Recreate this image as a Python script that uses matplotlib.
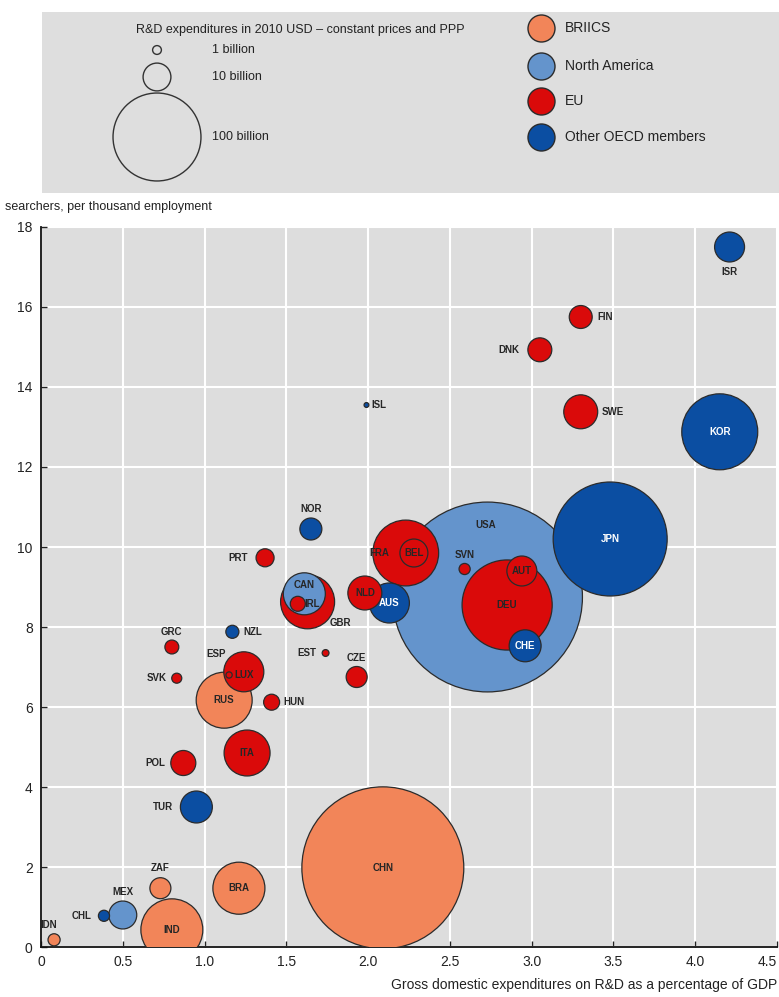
import matplotlib
matplotlib.use("Agg")
import matplotlib.pyplot as plt
from matplotlib.patches import Rectangle

plt.rcParams['font.family'] = ['Liberation Sans Narrow', 'Liberation Sans', 'DejaVu Sans']

# data
codes = ['ISR', 'FIN', 'DNK', 'ISL', 'SWE', 'KOR', 'JPN', 'USA', 'DEU', 'AUT',
         'CHE', 'SVN', 'AUS', 'FRA', 'BEL', 'NLD', 'CAN', 'GBR', 'IRL', 'NOR',
         'PRT', 'NZL', 'GRC', 'EST', 'CZE', 'ESP', 'LUX', 'SVK', 'RUS', 'HUN',
         'ITA', 'POL', 'TUR', 'CHN', 'BRA', 'IND', 'ZAF', 'MEX', 'CHL', 'IDN']
groups = ['Other OECD members', 'EU', 'EU', 'Other OECD members', 'EU',
          'Other OECD members', 'Other OECD members', 'North America', 'EU', 'EU',
          'Other OECD members', 'EU', 'Other OECD members', 'EU', 'EU', 'EU',
          'North America', 'EU', 'EU', 'Other OECD members',
          'EU', 'Other OECD members', 'EU', 'EU', 'EU', 'EU', 'EU', 'EU', 'BRIICS', 'EU',
          'EU', 'EU', 'Other OECD members', 'BRIICS', 'BRIICS', 'BRIICS', 'BRIICS',
          'North America', 'Other OECD members', 'BRIICS']
gerd = [4.21, 3.30, 3.05, 1.99, 3.30, 4.15, 3.48, 2.73, 2.85, 2.94,
        2.96, 2.59, 2.13, 2.23, 2.28, 1.98, 1.61, 1.63, 1.57, 1.65,
        1.37, 1.17, 0.80, 1.74, 1.93, 1.24, 1.15, 0.83, 1.12, 1.41,
        1.26, 0.87, 0.95, 2.09, 1.21, 0.80, 0.73, 0.50, 0.385, 0.08]
researchers = [17.5, 15.75, 14.93, 13.55, 13.38, 12.88, 10.2, 8.75, 8.55, 9.4,
               7.53, 9.45, 8.6, 9.85, 9.85, 8.85, 8.83, 8.63, 8.58, 10.45,
               9.73, 7.88, 7.5, 7.35, 6.75, 6.88, 6.8, 6.72, 6.17, 6.12,
               4.85, 4.6, 3.5, 1.98, 1.47, 0.43, 1.47, 0.8, 0.78, 0.18]
spend = [11.6, 6.8, 7.4, 0.3, 14.9, 74.6, 168, 466, 105, 11.6,
         13.2, 1.6, 20.7, 56, 10.1, 14.9, 22.8, 37.7, 2.9, 6.25,
         4.2, 2.2, 2.5, 0.6, 5.7, 20.7, 0.5, 1.3, 40.5, 3.3,
         27.3, 8.1, 13.2, 339, 35, 49.6, 5.7, 10.1, 1.6, 1.9]

group_names = ['BRIICS', 'North America', 'EU', 'Other OECD members']
group_colors = {'BRIICS': '#F28559', 'North America': '#6494CC',
                'EU': '#DA0A0A', 'Other OECD members': '#0B4EA2'}

# label placement: (dx px, dy px, ha)
label_pos = {'ISR': (0, -25, 'center'), 'FIN': (17, 0, 'left'), 'DNK': (-20, 0, 'right'),
             'SWE': (21, 0, 'left'), 'ISL': (5, 0, 'left'), 'USA': (-2, 72, 'center'),
             'SVN': (0, 14, 'center'), 'FRA': (-26, 0, 'center'), 'CAN': (0, 9, 'center'),
             'GBR': (22, -21, 'left'), 'IRL': (7, 0, 'left'), 'NOR': (0, 20, 'center'),
             'PRT': (-17, 0, 'right'), 'NZL': (11, 0, 'left'), 'GRC': (0, 15, 'center'),
             'EST': (-9, 0, 'right'), 'CZE': (0, 19, 'center'), 'ESP': (-28, 18, 'center'),
             'LUX': (5, 0, 'left'), 'SVK': (-10, 0, 'right'), 'HUN': (12, 0, 'left'),
             'POL': (-18, 0, 'right'), 'TUR': (-23, 0, 'right'), 'ZAF': (0, 20, 'center'),
             'MEX': (0, 23, 'center'), 'CHL': (-12, 0, 'right'), 'IDN': (-5, 15, 'center')}
white_labels = ['KOR', 'JPN', 'AUS', 'CHE']

def area(v):
    # marker area (pt^2) for a spend in billions; 100 bn -> ~44 px radius
    return 40.1 * v

fig = plt.figure(figsize=(7.79, 9.97), dpi=100)
ax = fig.add_axes([41 / 779, 1 - 947 / 997, 736 / 779, 720 / 997])
ax.set_facecolor('#DDDDDD')

order = sorted(range(len(codes)), key=lambda i: -spend[i])
ax.scatter([gerd[i] for i in order], [researchers[i] for i in order],
           s=[area(spend[i]) for i in order],
           c=[group_colors[groups[i]] for i in order],
           edgecolors='#2b2b2b', linewidths=0.9, zorder=3)

for i, code in enumerate(codes):
    dx, dy, ha = label_pos.get(code, (0, 0, 'center'))
    col = 'white' if code in white_labels else '#262626'
    ax.annotate(code, (gerd[i], researchers[i]), xytext=(dx, dy),
                textcoords='offset pixels', ha=ha, va='center',
                fontsize=7, color=col, fontweight='bold', zorder=5)

ax.set_xlim(0, 4.5)
ax.set_ylim(0, 18)
ax.set_xticks([0, 0.5, 1.0, 1.5, 2.0, 2.5, 3.0, 3.5, 4.0, 4.5])
ax.set_xticklabels(['0', '0.5', '1.0', '1.5', '2.0', '2.5', '3.0', '3.5', '4.0', '4.5'])
ax.get_xticklabels()[-1].set_horizontalalignment('right')
ax.set_yticks(range(0, 19, 2))
ax.tick_params(direction='in', length=4, width=1, labelsize=10, colors='#222222', pad=6)
ax.grid(True, color='white', linewidth=1.5)
ax.set_axisbelow(True)
for side in ['top', 'right']:
    ax.spines[side].set_visible(False)
for side in ['left', 'bottom']:
    ax.spines[side].set_linewidth(1.3)
    ax.spines[side].set_color('#111111')

# overlay in pixel coordinates for legend and titles
ov = fig.add_axes([0, 0, 1, 1], facecolor='none')
ov.set_xlim(0, 779)
ov.set_ylim(997, 0)
ov.axis('off')

ov.add_patch(Rectangle((42, 12), 737, 181, facecolor='#DEDEDE', edgecolor='none'))
ov.text(300, 30, 'R&D expenditures in 2010 USD \u2013 constant prices and PPP',
        ha='center', va='center', fontsize=9, color='#222222')
legend_sizes = [1, 10, 100]
legend_size_labels = ['1 billion', '10 billion', '100 billion']
for v, lab, yy in zip(legend_sizes, legend_size_labels, [50, 77, 137]):
    ov.scatter([157], [yy], s=area(v), facecolors='none', edgecolors='#333333', linewidths=1)
    ov.text(212, yy, lab, ha='left', va='center', fontsize=9, color='#222222')

for g, yy in zip(group_names, [28, 66, 101, 137]):
    ov.scatter([541], [yy], s=378, c=group_colors[g], edgecolors='#2b2b2b', linewidths=1)
    ov.text(565, yy, g, ha='left', va='center', fontsize=10, color='#222222')

ov.text(5, 207, 'searchers, per thousand employment', ha='left', va='center',
        fontsize=9, color='#222222')
ov.text(777, 985, 'Gross domestic expenditures on R&D as a percentage of GDP',
        ha='right', va='center', fontsize=10, color='#222222')

fig.savefig('out.png', dpi=100)
